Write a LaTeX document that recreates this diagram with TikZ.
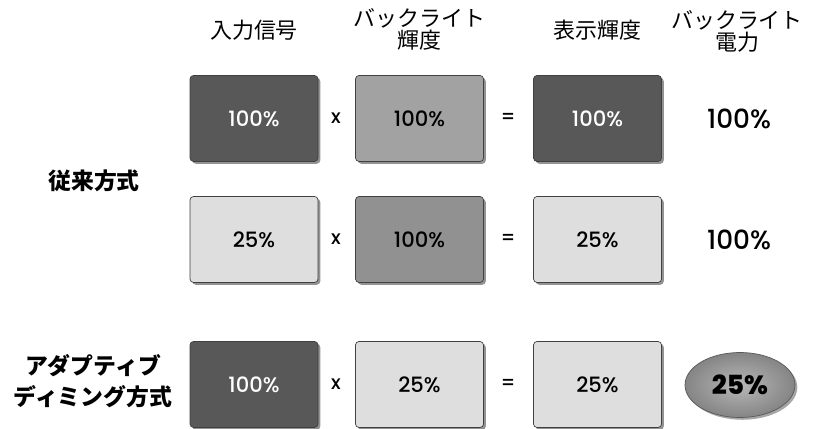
\documentclass[tikz,border=0pt]{standalone}
\usepackage{fontspec}
\setmainfont{Poppins Medium}
\newfontfamily\jpfont{Noto Sans CJK JP}
\usetikzlibrary{shapes,shadows}
\definecolor{dldark}{RGB}{88,88,88}
\definecolor{dlmid}{RGB}{162,162,162}
\definecolor{dlmidb}{RGB}{145,145,145}
\definecolor{dllight}{RGB}{222,222,222}
\tikzstyle{level} = [rectangle, rounded corners=2pt, minimum width=2.56cm, minimum height=1.72cm, text centered, draw=black!75, thin, drop shadow={shadow xshift=1.3pt, shadow yshift=-1.3pt, opacity=0.85}, font=\fontsize{12}{14}\selectfont]
\tikzstyle{head} = [align=center, font=\jpfont\fontsize{12.5}{12.5}\selectfont]
\tikzstyle{method} = [align=center, font=\jpfont\bfseries\fontsize{13}{17.6}\selectfont]
\tikzstyle{op} = [font=\fontsize{11}{13}\selectfont]

\begin{document}
\begin{tikzpicture}
\useasboundingbox (0,0) rectangle (16.34,8.58);
% column heads
\node[head] (hin) at (5.08,7.98) {入力信号};
\node[head] (hbl) at (8.39,8.0) {バックライト\\輝度};
\node[head] (hout) at (11.95,7.98) {表示輝度};
\node[head] (hpw) at (14.74,7.96) {バックライト\\電力};
\node[method] (conv) at (1.88,4.96) {従来方式};
\node[method] (adapt) at (1.86,0.96) {アダプティブ\\ディミング方式};
% conventional, full signal
\node[level, fill=dldark, text=white] (in1) at (5.08,6.21) {100\%};
\node[op] (x1) at (6.72,6.21) {x};
\node[level, fill=dlmid] (bl1) at (8.39,6.21) {100\%};
\node[op] (eq1) at (10.16,6.21) {=};
\node[level, fill=dldark, text=white] (out1) at (11.95,6.21) {100\%};
\node[font=\fontsize{15}{17}\selectfont] (pw1) at (14.78,6.21) {100\%};
% conventional, 25% signal
\node[level, fill=dllight] (in2) at (5.08,3.79) {25\%};
\node[op] (x2) at (6.72,3.79) {x};
\node[level, fill=dlmidb] (bl2) at (8.39,3.79) {100\%};
\node[op] (eq2) at (10.16,3.79) {=};
\node[level, fill=dllight] (out2) at (11.95,3.79) {25\%};
\node[font=\fontsize{15}{17}\selectfont] (pw2) at (14.78,3.79) {100\%};
% adaptive dimming
\node[level, fill=dldark, text=white] (in3) at (5.08,0.89) {100\%};
\node[op] (x3) at (6.72,0.89) {x};
\node[level, fill=dllight] (bl3) at (8.39,0.89) {25\%};
\node[op] (eq3) at (10.16,0.89) {=};
\node[level, fill=dllight] (out3) at (11.95,0.89) {25\%};
\node[ellipse, minimum width=2.2cm, minimum height=1.3cm, draw=black!65, inner color=black!28, outer color=black!48, drop shadow={shadow xshift=1.3pt, shadow yshift=-1.3pt, opacity=0.7}, font=\bfseries\fontsize{15}{17}\selectfont] (pw3) at (14.8,0.88) {25\%};
\end{tikzpicture}
\end{document}
